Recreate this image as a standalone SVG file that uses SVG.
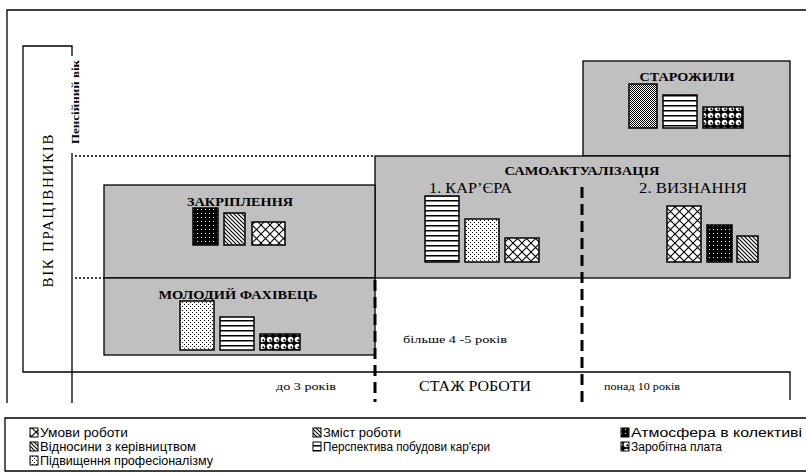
<svg xmlns="http://www.w3.org/2000/svg" width="806" height="474" viewBox="0 0 806 474">
<style>
.box{fill:#c0c0c0;stroke:#000;stroke-width:1.3}
.bar{stroke:#000;stroke-width:1.5}
.ln{stroke:#000;stroke-width:1.3;fill:none}
.dash{stroke:#000;stroke-width:3;stroke-dasharray:11 6;fill:none}
.dot{stroke:#000;stroke-width:1.5;stroke-dasharray:2 2;fill:none}
.hd{font-family:"Liberation Serif",serif;font-weight:bold;font-size:13px;text-anchor:middle}
.tm{font-family:"Liberation Serif",serif;font-size:15px}
.sm{font-family:"Liberation Serif",serif;font-size:11px}
.lg{font-family:"Liberation Sans",sans-serif;font-size:12px}
.ic{stroke:#000;stroke-width:1}
</style>
<defs>
<pattern id="pH" width="6" height="5" patternUnits="userSpaceOnUse"><rect width="6" height="5" fill="#fff"/><rect y="0" width="6" height="1.5" fill="#000"/></pattern>
<pattern id="pD" width="4" height="4" patternUnits="userSpaceOnUse"><rect width="4" height="4" fill="#fff"/><rect x="0" y="0" width="1" height="1" fill="#000"/><rect x="2" y="2" width="1" height="1" fill="#000"/></pattern>
<pattern id="pX" width="9" height="9" patternUnits="userSpaceOnUse"><rect width="9" height="9" fill="#fff"/><path d="M0 0L9 9M9 0L0 9" stroke="#000" stroke-width="1.1"/></pattern>
<pattern id="pS" width="4" height="4" patternUnits="userSpaceOnUse"><rect width="4" height="4" fill="#fff"/><path d="M-1 -1L5 5M-1 3L1 5M3 -1L5 1" stroke="#000" stroke-width="1.1"/></pattern>
<pattern id="pB" width="4" height="4" patternUnits="userSpaceOnUse"><rect width="4" height="4" fill="#000"/><rect x="1" y="1" width="1" height="1" fill="#fff"/></pattern>
<pattern id="pC" width="7" height="7" patternUnits="userSpaceOnUse"><rect width="7" height="7" fill="#000"/><circle cx="3.5" cy="3.5" r="2.8" fill="#fff"/><circle cx="4.3" cy="4.3" r="1.1" fill="#000"/></pattern>
<pattern id="pG" width="2" height="2" patternUnits="userSpaceOnUse"><rect width="2" height="2" fill="#fff"/><rect width="1" height="1" fill="#000"/><rect x="1" y="1" width="1" height="1" fill="#000"/></pattern>
</defs>

<g id="frame">
<path class="ln" d="M7 403V10H806"/>
<path class="ln" d="M72 56V46H23V372H790V400"/>
<path class="ln" d="M72 153V403"/>
</g>

<g id="axis-labels">
<text class="tm" transform="translate(53,211) rotate(-90)" text-anchor="middle" textLength="153">ВІК  ПРАЦІВНИКІВ</text>
<text font-family="Liberation Serif,serif" font-weight="bold" font-size="10" transform="translate(79,102) rotate(-90)" text-anchor="middle" textLength="84" lengthAdjust="spacingAndGlyphs">Пенсійний вік</text>
</g>

<g id="starozhyly">
<rect class="box" x="583" y="61" width="207" height="95"/>
<text class="hd" x="687" y="81" textLength="95" lengthAdjust="spacingAndGlyphs">СТАРОЖИЛИ</text>
<rect class="bar" x="629" y="84" width="28" height="44" fill="url(#pG)"/>
<rect class="bar" x="663" y="95" width="34" height="33" fill="url(#pH)"/>
<rect class="bar" x="703" y="107" width="40" height="21" fill="url(#pC)"/>
</g>

<g id="samoaktualizatsiia">
<rect class="box" x="375" y="156" width="415" height="122"/>
<text class="hd" x="582" y="175" textLength="155" lengthAdjust="spacingAndGlyphs">САМОАКТУАЛІЗАЦІЯ</text>
<text class="tm" x="429" y="193" textLength="83" lengthAdjust="spacingAndGlyphs">1. КАР’ЄРА</text>
<text class="tm" x="639" y="193" textLength="108" lengthAdjust="spacingAndGlyphs">2.  ВИЗНАННЯ</text>
<rect class="bar" x="425" y="196" width="34" height="66" fill="url(#pH)"/>
<rect class="bar" x="465" y="219" width="34" height="43" fill="url(#pD)"/>
<rect class="bar" x="505" y="238" width="34" height="24" fill="url(#pX)"/>
<rect class="bar" x="667" y="206" width="34" height="56" fill="url(#pX)"/>
<rect class="bar" x="707" y="225" width="25" height="37" fill="url(#pB)"/>
<rect class="bar" x="737" y="236" width="21" height="26" fill="url(#pS)"/>
</g>

<g id="zakriplennia">
<rect class="box" x="104" y="185" width="271" height="93"/>
<text class="hd" x="240" y="206" textLength="106" lengthAdjust="spacingAndGlyphs">ЗАКРІПЛЕННЯ</text>
<rect class="bar" x="193" y="208" width="25" height="37" fill="url(#pB)"/>
<rect class="bar" x="224" y="213" width="21" height="32" fill="url(#pS)"/>
<rect class="bar" x="252" y="222" width="33" height="23" fill="url(#pX)"/>
</g>

<g id="molodyi-fakhivets">
<rect class="box" x="104" y="278" width="271" height="77"/>
<text class="hd" x="238" y="299" textLength="159" lengthAdjust="spacingAndGlyphs">МОЛОДИЙ ФАХІВЕЦЬ</text>
<rect class="bar" x="180" y="301" width="34" height="49" fill="url(#pD)"/>
<rect class="bar" x="220" y="317" width="34" height="33" fill="url(#pH)"/>
<rect class="bar" x="260" y="334" width="40" height="16" fill="url(#pC)"/>
</g>

<g id="connectors">
<path class="dot" d="M75 156H375"/>
<path class="dot" d="M75 278H104"/>
<path class="dash" d="M375 280V402"/>
<path class="dash" d="M582 187V402"/>
</g>

<g id="stazh-labels">
<text class="sm" x="403" y="343" textLength="104" lengthAdjust="spacingAndGlyphs">більше 4 -5 років</text>
<text class="sm" x="276" y="390" textLength="60" lengthAdjust="spacingAndGlyphs">до 3 років</text>
<text class="tm" x="419" y="391" textLength="112" lengthAdjust="spacingAndGlyphs">СТАЖ РОБОТИ</text>
<text class="sm" x="604" y="390" textLength="76" lengthAdjust="spacingAndGlyphs">понад 10 років</text>
</g>

<g id="legend">
<path class="ln" d="M806 418H5V471H806"/>
<rect class="ic" x="30" y="428" width="8" height="9" fill="url(#pX)"/>
<text class="lg" x="40" y="437" textLength="88" lengthAdjust="spacingAndGlyphs">Умови роботи</text>
<rect class="ic" x="30" y="442" width="8" height="9" fill="url(#pS)"/>
<text class="lg" x="40" y="451" textLength="156" lengthAdjust="spacingAndGlyphs">Відносини з керівництвом</text>
<rect class="ic" x="30" y="456" width="8" height="9" fill="url(#pD)"/>
<text class="lg" x="40" y="465" textLength="173" lengthAdjust="spacingAndGlyphs">Підвищення професіоналізму</text>
<rect class="ic" x="313" y="428" width="8" height="9" fill="url(#pS)"/>
<text class="lg" x="323" y="437" textLength="78" lengthAdjust="spacingAndGlyphs">Зміст роботи</text>
<rect class="ic" x="313" y="442" width="8" height="9" fill="url(#pH)"/>
<text class="lg" x="323" y="451" textLength="167" lengthAdjust="spacingAndGlyphs">Перспектива побудови кар'єри</text>
<rect class="ic" x="621" y="428" width="8" height="9" fill="url(#pB)"/>
<text class="lg" x="631" y="437" textLength="171" lengthAdjust="spacingAndGlyphs">Атмосфера в колективі</text>
<rect class="ic" x="621" y="442" width="8" height="9" fill="url(#pC)"/>
<text class="lg" x="631" y="451" textLength="91" lengthAdjust="spacingAndGlyphs">Заробітна плата</text>
</g>
</svg>
